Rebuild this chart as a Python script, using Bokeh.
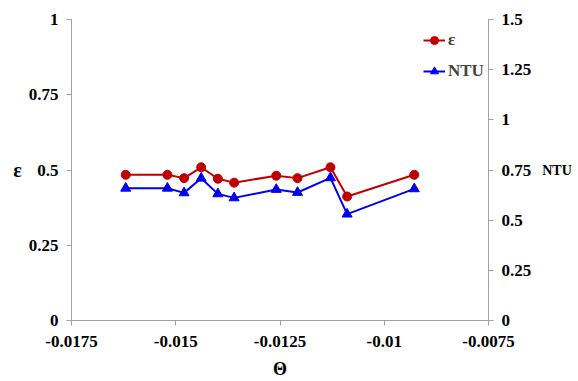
from bokeh.plotting import figure
from bokeh.models import Range1d, LinearAxis, FixedTicker, Legend, LegendItem
from bokeh.embed import file_html
from bokeh.resources import INLINE

# Data
theta = [-0.01620, -0.01520, -0.01480, -0.01439, -0.01399, -0.01360,
         -0.01259, -0.01208, -0.01129, -0.01089, -0.00928]
eps = [0.484, 0.484, 0.473, 0.509, 0.471, 0.458, 0.481, 0.473, 0.509, 0.412, 0.484]
ntu = [0.659, 0.659, 0.636, 0.709, 0.631, 0.611, 0.653, 0.638, 0.711, 0.530, 0.656]

x_ticks = [-0.0175, -0.015, -0.0125, -0.01, -0.0075]
x_tick_labels = ["-0.0175", "-0.015", "-0.0125", "-0.01", "-0.0075"]
eps_ticks = [0, 0.25, 0.5, 0.75, 1]
eps_tick_labels = ["0", "0.25", "0.5", "0.75", "1"]
ntu_ticks = [0, 0.25, 0.5, 0.75, 1, 1.25, 1.5]
ntu_tick_labels = ["0", "0.25", "0.5", "0.75", "1", "1.25", "1.5"]

FONT = "Liberation Serif"
AXIS_GRAY = "#A0A0A0"
RED = "#C00000"
BLUE = "#0000F0"

p = figure(width=578, height=381, output_backend="svg", toolbar_location=None,
           x_range=Range1d(-0.0175, -0.0075), y_range=Range1d(0, 1),
           min_border_left=71, min_border_right=90, min_border_top=19, min_border_bottom=61)
p.extra_y_ranges = {"ntu": Range1d(0, 1.5)}
p.outline_line_color = None
p.xgrid.visible = False
p.ygrid.visible = False
p.background_fill_color = "white"
p.border_fill_color = "white"

def style_axis(ax, ticks, labels):
    ax.ticker = FixedTicker(ticks=ticks)
    ax.major_label_overrides = {t: l for t, l in zip(ticks, labels)}
    ax.minor_tick_line_color = None
    ax.axis_line_color = AXIS_GRAY
    ax.major_tick_line_color = AXIS_GRAY
    ax.major_tick_in = 0
    ax.major_tick_out = 5
    ax.major_label_text_font = FONT
    ax.major_label_text_font_style = "bold"
    ax.major_label_text_font_size = "17px"
    ax.major_label_text_color = "black"
    ax.axis_label_text_font = FONT
    ax.axis_label_text_font_style = "bold"
    ax.axis_label_text_color = "black"

xa = p.xaxis[0]
style_axis(xa, x_ticks, x_tick_labels)
xa.axis_label = "Θ"
xa.axis_label_text_font_size = "18px"
xa.major_label_standoff = 10
xa.axis_label_standoff = 9

ya = p.yaxis[0]
style_axis(ya, eps_ticks, eps_tick_labels)
ya.axis_label = "ε"
ya.axis_label_text_font_size = "20px"
ya.axis_label_orientation = "horizontal"
ya.major_label_standoff = 8
ya.axis_label_standoff = 4

ra = LinearAxis(y_range_name="ntu")
style_axis(ra, ntu_ticks, ntu_tick_labels)
ra.axis_label = "NTU"
ra.axis_label_text_font_size = "14px"
ra.axis_label_orientation = "horizontal"
ra.major_label_standoff = 8
ra.axis_label_standoff = 8
p.add_layout(ra, "right")

l1 = p.line(theta, eps, line_color=RED, line_width=2)
s1 = p.scatter(theta, eps, marker="circle", size=9, fill_color=RED, line_color=RED)
l2 = p.line(theta, ntu, line_color=BLUE, line_width=2, y_range_name="ntu")
s2 = p.scatter(theta, ntu, marker="triangle", size=10, fill_color=BLUE, line_color=BLUE,
               y_range_name="ntu")

legend = Legend(items=[LegendItem(label="ε", renderers=[l1, s1]),
                       LegendItem(label="NTU", renderers=[l2, s2])],
                location=(352, 239))
legend.border_line_color = None
legend.background_fill_alpha = 0
legend.padding = 0
legend.margin = 0
legend.spacing = 11
legend.glyph_width = 22
legend.glyph_height = 20
legend.label_standoff = 3
legend.label_text_font = FONT
legend.label_text_font_style = "bold"
legend.label_text_font_size = "17px"
p.add_layout(legend, "center")

open("out.html", "w").write(file_html(p, INLINE))
